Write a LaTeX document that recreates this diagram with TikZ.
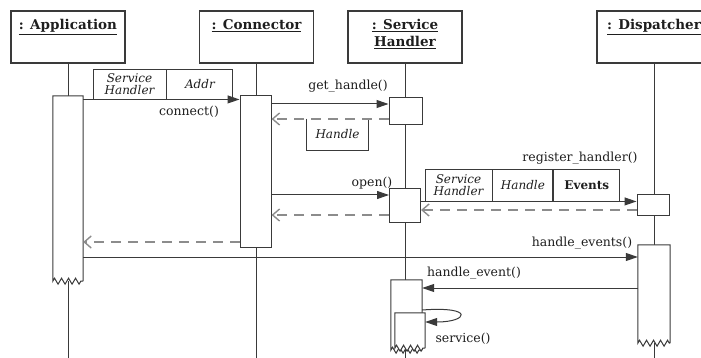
\documentclass[tikz,border=0pt]{standalone}
\usepackage{fontspec}
\setmainfont{DejaVu Serif}
\usepackage{xcolor}
\usetikzlibrary{arrows.meta,positioning,decorations.pathmorphing}
\definecolor{ink}{HTML}{3a3a3a}
\definecolor{txt}{HTML}{1e1e1e}
\definecolor{faint}{HTML}{8c8c8c}
\newcommand{\ragbar}[1]{\draw[act] (#1.south east) -- (#1.north east) -- (#1.north west) -- (#1.south west) decorate[zz]{-- (#1.south east)} -- cycle;}
\tikzset{
  objbox/.style={draw=ink, line width=1.3pt, minimum width=114, minimum height=52, inner sep=0pt},
  objtxt/.style={font=\fontsize{13.5}{17}\selectfont\bfseries, align=center, text=txt, inner sep=0pt},
  life/.style={draw=ink, line width=1pt},
  act/.style={draw=ink, fill=white, line width=1pt, inner sep=0pt},
  actz/.style={draw=none, fill=white, inner sep=0pt},
  pbox/.style={draw=ink, line width=0.9pt, inner sep=0pt, align=center, font=\fontsize{12}{12}\selectfont\itshape, text=txt},
  msg/.style={-{Triangle[length=12pt,width=8pt]}, draw=ink, line width=1pt},
  ret/.style={-{Straight Barb[length=7pt,width=12pt]}, draw=faint, line width=1.4pt, dash pattern=on 10pt off 7pt},
  lbl/.style={font=\fontsize{12.5}{14}\selectfont, text=txt, inner sep=0pt},
  zz/.style={decoration={zigzag, segment length=7pt, amplitude=3pt}},
}

\begin{document}
\begin{tikzpicture}[x=1pt, y=-1pt]
\useasboundingbox (0,0) rectangle (701,358);
\clip (0,0) rectangle (701,358);
\coordinate (bot) at (0,358);
% objects
\node[objbox] (app) at (68,37) {};
\node[objbox] (con) at (256.5,37) {};
\node[objbox] (sh) at (405,37) {};
\node[objbox] (dp) at (654,37) {};
\node[objtxt, below=9pt of app.north] (tapp) {\underline{: Application}};
\node[objtxt, below=9pt of con.north] (tcon) {\underline{: Connector}};
\node[objtxt, below=9pt of sh.north] (tsh) {\underline{: Service}\\\underline{Handler}};
\node[objtxt, below=9pt of dp.north] (tdp) {\underline{: Dispatcher}};
\foreach \o in {app,con,sh,dp}
  \draw[life] (\o.south) -- (\o.south |- bot);
% activations
\node[actz, minimum width=30, minimum height=185] (appbar) at (68,188.5) {};
\ragbar{appbar}
\node[act, minimum width=31, minimum height=151] (conbar) at (255.5,171.5) {};
\node[act, minimum width=33, minimum height=27] (shbox1) at (405.5,111.5) {};
\node[act, minimum width=31, minimum height=33] (shbox2) at (405,205.5) {};
\node[actz, minimum width=31, minimum height=70] (shbar) at (406.5,315) {};
\ragbar{shbar}
\node[actz, minimum width=30, minimum height=35] (shnest) at (410,330.5) {};
\ragbar{shnest}
\node[act, minimum width=32, minimum height=20] (dpbox) at (653,205) {};
\node[actz, minimum width=32, minimum height=98] (dpbar) at (654,294) {};
\ragbar{dpbar}
% message levels
\coordinate (m2) at (0,104);
\coordinate (m3) at (0,119);
\coordinate (m4) at (0,195);
\coordinate (m5) at (0,215);
\coordinate (m7) at (0,210);
\coordinate (m8) at (0,242);
\coordinate (m9) at (0,257);
\coordinate (m10) at (0,288);
\coordinate (m11) at (0,310);
\coordinate (m12) at (0,322);
% parameters
\node[pbox, minimum width=73, minimum height=30] (p1a) at (129.5,84) {Service\\Handler};
\node[pbox, minimum width=66, minimum height=30, right=0pt of p1a] (p1b) {Addr};
\node[pbox, minimum width=67, minimum height=32] (p2a) at (458.5,185) {Service\\Handler};
\node[pbox, minimum width=60, minimum height=32, right=0pt of p2a] (p2b) {Handle};
\node[pbox, minimum width=66, minimum height=32, right=0pt of p2b, font=\fontsize{12}{12}\selectfont\bfseries] (p2c) {Events};
\node[pbox, draw=none, minimum width=61, minimum height=31] (hbox) at (337.5,134.5) {Handle};
\draw[draw=ink, line width=0.9pt] (hbox.north west) -- (hbox.south west) -- (hbox.south east) -- (hbox.north east);
% messages
\draw[msg] (appbar.east |- p1a.south) -- (conbar.west |- p1a.south);
\draw[msg] (conbar.east |- m2) -- (shbox1.west |- m2);
\draw[ret] (shbox1.west |- m3) -- (conbar.east |- m3);
\draw[msg] (conbar.east |- m4) -- (shbox2.west |- m4);
\draw[ret] (shbox2.west |- m5) -- (conbar.east |- m5);
\draw[msg] (shbox2.east |- p2a.south) -- (dpbox.west |- p2a.south);
\draw[ret] (dpbox.west |- m7) -- (shbox2.east |- m7);
\draw[ret] (conbar.west |- m8) -- (appbar.east |- m8);
\draw[msg] (appbar.east |- m9) -- (dpbar.west |- m9);
\draw[msg] (dpbar.west |- m10) -- (shbar.east |- m10);
\draw[msg] (shbar.east |- m11) .. controls +(53,-4) and +(43,0) .. (shnest.east |- m12);
% labels
\node[lbl] (lconn) at (189,112) {connect()};
\node[lbl] (lget) at (348,86) {get\_handle()};
\node[lbl] (lopen) at (372,183) {open()};
\node[lbl] (lreg) at (580,158) {register\_handler()};
\node[lbl] (levs) at (582,243) {handle\_events()};
\node[lbl] (lev) at (474,273) {handle\_event()};
\node[lbl] (lserv) at (463,339) {service()};
\end{tikzpicture}
\end{document}
